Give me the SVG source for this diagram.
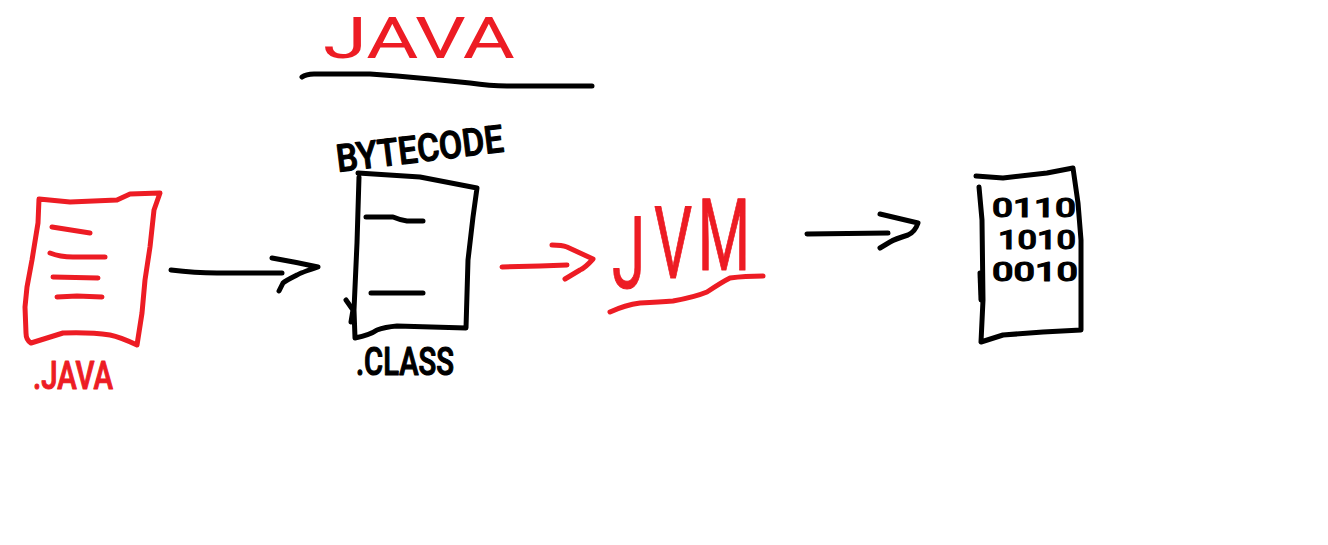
<svg xmlns="http://www.w3.org/2000/svg" width="1328" height="545" viewBox="0 0 1328 545">
<style>
.s{fill:none;stroke-width:5;stroke-linecap:round;stroke-linejoin:round}
.k{stroke:#000}
.r{stroke:#ed1c24}
text{font-family:"Roboto","Liberation Sans",sans-serif;font-weight:500;stroke-linejoin:round}
.tr{fill:#ed1c24;stroke:#ed1c24}
.tk{fill:#000;stroke:#000}
</style>
<rect width="1328" height="545" fill="#fff"/>
<g id="title">
<text class="tr" x="323" y="58" font-size="58" stroke-width="0" textLength="192" lengthAdjust="spacingAndGlyphs" style="font-weight:400">JAVA</text>
<path class="s k" d="M302 77Q306 74 314 74L370 74L397 76L430 79L470 83Q490 86 507 86L592 86"/>
</g>
<g id="java-file">
<path class="s r" d="M39 199L70 202L117 200L130 194L160 193L154 210L150 247L145 280L142 313L137 345Q120 337 110 335Q90 332 63 333Q50 337 31 343Q26 340 26 333L25 307L27 287L32 260L38 223Z"/>
<path class="s r" d="M52 227L90 233M50 253Q60 257 73 257L105 257M53 277L98 278M57 297L77 296L102 297"/>
<text class="tr" x="33" y="389" font-size="38" stroke-width="1" textLength="80" lengthAdjust="spacingAndGlyphs">.JAVA</text>
</g>
<g id="class-file">
<text class="tk" x="338" y="172" font-size="38" stroke-width="1.2" textLength="168" lengthAdjust="spacingAndGlyphs" transform="rotate(-7 338 172)">BYTECODE</text>
<path class="s k" d="M358 173L420 177L477 188L473 217L468 260L466 328L397 326Q385 327 377 330Q370 335 355 338L354 310L357 243L359 177"/>
<path class="s k" d="M346 300L353 310L351 322M366 217L393 217Q400 220 407 221L423 221M371 293L423 293"/>
<text class="tk" x="356" y="375" font-size="38" stroke-width="1.2" textLength="98" lengthAdjust="spacingAndGlyphs">.CLASS</text>
</g>
<g id="jvm">
<text class="tr" transform="translate(603 274) scale(.6 1)" font-size="100" stroke-width="1" style="font-weight:400"><tspan x="15" y="14">J</tspan><tspan x="85" y="4">V</tspan><tspan x="158" y="-4">M</tspan></text>
<path class="s r" d="M610 312Q625 305 640 303Q660 302 673 301Q695 297 707 292Q722 282 730 278Q745 276 763 276"/>
</g>
<g id="machine-code">
<path class="s k" d="M976 176L1003 178L1047 173L1073 168L1078 203L1081 240L1081 330L1043 332L1003 335L981 342L983 300L982 220L979 187"/>
<path class="s k" d="M980 273L981 300"/>
<text class="tk" font-size="26" stroke-width="1" x="992" y="217" textLength="84" lengthAdjust="spacingAndGlyphs">0110</text>
<text class="tk" font-size="26" stroke-width="1" x="998" y="249" textLength="78" lengthAdjust="spacingAndGlyphs">1010</text>
<text class="tk" font-size="26" stroke-width="1" x="992" y="281" textLength="86" lengthAdjust="spacingAndGlyphs">0010</text>
</g>
<g id="connectors">
<path class="s k" d="M171 270Q195 273 217 273L282 273M272 258Q295 262 318 267Q300 273 297 275Q285 281 283 283L279 291"/>
<path class="s r" d="M502 267L540 266L567 265M552 245Q562 245 567 247L593 259Q585 268 580 270L565 279"/>
<path class="s k" d="M807 234L888 233M880 214L918 223Q915 232 908 235Q895 239 890 242L880 248"/>
</g>
</svg>
